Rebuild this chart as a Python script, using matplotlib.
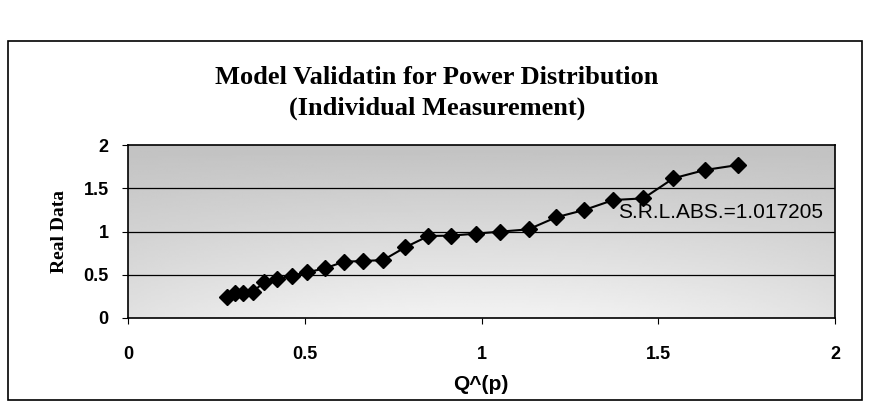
import numpy as np
import matplotlib
matplotlib.use("Agg")
import matplotlib.pyplot as plt
from matplotlib.patches import Rectangle

# Data
q_p = [0.281, 0.303, 0.326, 0.353, 0.385, 0.421, 0.463, 0.507, 0.557,
       0.611, 0.666, 0.722, 0.784, 0.850, 0.914, 0.984, 1.052, 1.133,
       1.211, 1.291, 1.373, 1.458, 1.543, 1.632, 1.726]
real_data = [0.246, 0.285, 0.293, 0.304, 0.412, 0.447, 0.489, 0.528, 0.574,
             0.651, 0.659, 0.670, 0.817, 0.948, 0.952, 0.975, 0.998, 1.025,
             1.164, 1.249, 1.364, 1.383, 1.615, 1.711, 1.769]
x_ticks = [0, 0.5, 1, 1.5, 2]
y_ticks = [0, 0.5, 1, 1.5, 2]
x_tick_labels = ["0", "0.5", "1", "1.5", "2"]
y_tick_labels = ["0", "0.5", "1", "1.5", "2"]
annotation = "S.R.L.ABS.=1.017205"

W, H = 873, 412
fig = plt.figure(figsize=(W / 100, H / 100), dpi=100)
fig.patch.set_facecolor("white")

# outer chart frame
fig.patches.append(Rectangle((8 / W, 1 - 400 / H), 854 / W, 359 / H,
                             transform=fig.transFigure, fill=False,
                             edgecolor="black", linewidth=1.2))

ax = fig.add_axes([128 / W, 1 - 318 / H, 707 / W, 173 / H])

# gray gradient background: darker on top, lighter toward the bottom centre
gx, gy = np.meshgrid(np.linspace(-1, 1, 200), np.linspace(0, 1, 100))
shade = 0.76 + 0.19 * gy * (1 - 0.35 * gx ** 2)
ax.imshow(shade, cmap="gray", vmin=0, vmax=1, aspect="auto",
          extent=[0, 2, 0, 2], origin="upper", zorder=0, interpolation="bilinear")

for yv in y_ticks[1:-1]:
    ax.axhline(yv, color="black", linewidth=0.9, zorder=1)

ax.plot(q_p, real_data, color="black", linewidth=1.5, marker="D",
        markersize=8, zorder=3)

ax.text(1.386, 1.225, annotation, fontsize=15, family="Liberation Sans",
        ha="left", va="center", zorder=4)

ax.set_xlim(0, 2)
ax.set_ylim(0, 2)
ax.set_xticks(x_ticks)
ax.set_xticklabels(x_tick_labels)
ax.set_yticks(y_ticks)
ax.set_yticklabels(y_tick_labels)
for lbl in ax.get_xticklabels() + ax.get_yticklabels():
    lbl.set_family("Liberation Sans")
    lbl.set_fontweight("bold")
    lbl.set_fontsize(13)
ax.tick_params(axis="x", direction="out", length=4, pad=16)
ax.tick_params(axis="y", direction="out", length=4, pad=10)
for sp in ax.spines.values():
    sp.set_linewidth(1.2)
    sp.set_color("black")

ax.set_xlabel("Q^(p)", family="Liberation Sans", fontweight="bold", fontsize=15)
ax.xaxis.set_label_coords((481 - 128) / 707, -(385 - 318) / 173)
ax.xaxis.label.set_va("center")
ax.set_ylabel("Real Data", family="Liberation Serif", fontweight="bold", fontsize=14)
ax.yaxis.set_label_coords(-(128 - 60) / 707, 0.5)
ax.yaxis.label.set_va("center")

fig.text(437 / W, 1 - 78 / H, "Model Validatin for Power Distribution",
         family="Liberation Serif", fontweight="bold", fontsize=19,
         ha="center", va="center")
fig.text(437 / W, 1 - 108 / H, "(Individual Measurement)",
         family="Liberation Serif", fontweight="bold", fontsize=19,
         ha="center", va="center")

fig.savefig("out.png", dpi=100, facecolor="white")
